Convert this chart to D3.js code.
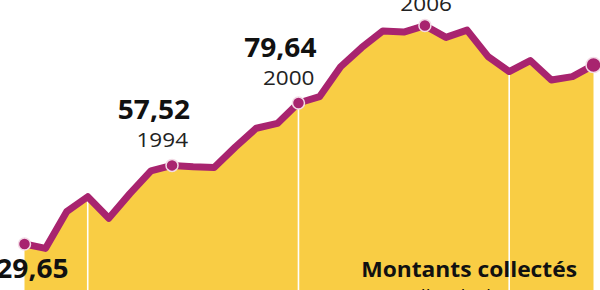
<!DOCTYPE html>
<html>
<head>
<meta charset="utf-8">
<script src="https://cdn.jsdelivr.net/npm/d3@7"></script>
<style>
  body { margin: 0; background: #fff; }
  svg { display: block; font-family: "Open Sans", sans-serif; }
</style>
</head>
<body>
<script>
// montants collectes, en milliards d'euros
var years = [1987, 1988, 1989, 1990, 1991, 1992, 1993, 1994, 1995, 1996,
             1997, 1998, 1999, 2000, 2001, 2002, 2003, 2004, 2005, 2006,
             2007, 2008, 2009, 2010, 2011, 2012, 2013, 2014];
var amounts = [29.65, 28.1, 41.1, 46.4, 38.8, 47.5, 55.6, 57.52, 57.0, 56.8,
               64.0, 70.7, 72.4, 79.64, 81.9, 92.5, 99.3, 105.2, 104.8, 107.1,
               102.9, 105.5, 96.1, 90.8, 94.7, 87.8, 89.0, 93.1];
var labelYears = [1987, 1994, 2000, 2006];
var labelTexts = ['29,65', '57,52', '79,64', '107,10'];
var dotYears = [1987, 1994, 2000, 2006, 2014];
var gridYears = [1990, 2000, 2010];

var width = 600;
var height = 290;

var data = years.map(function(y, i) { return {year: y, value: amounts[i]}; });
var byYear = {};
data.forEach(function(d) { byYear[d.year] = d; });

var svg = d3.select('body').append('svg')
  .attr('width', width)
  .attr('height', height);

var x = d3.scaleLinear().domain([1987, 2014]).range([24.5, 593.5]);
var y = d3.scaleLinear().domain([0, 100]).range([327.6, 45.6]);

var yellow = '#f9cd44';
var purple = '#a8246f';

// area under the curve
var area = d3.area()
  .x(function(d) { return x(d.year); })
  .y0(height)
  .y1(function(d) { return y(d.value); });

svg.append('path')
  .datum(data)
  .attr('d', area)
  .attr('fill', yellow);

// white decade lines
svg.selectAll('.grid')
  .data(gridYears)
  .enter().append('line')
  .attr('class', 'grid')
  .attr('x1', function(d) { return x(d); })
  .attr('x2', function(d) { return x(d); })
  .attr('y1', function(d) { return y(byYear[d].value); })
  .attr('y2', height)
  .attr('stroke', '#fff')
  .attr('stroke-width', 1.6);

// legend text (partly cut at the bottom)
svg.append('text')
  .attr('transform', 'translate(577,277) scale(1.06,1)')
  .attr('text-anchor', 'end')
  .attr('font-size', 21.5)
  .attr('font-weight', 700)
  .attr('fill', '#111')
  .text('Montants collectés');

svg.append('text')
  .attr('transform', 'translate(545,303) scale(1.06,1)')
  .attr('text-anchor', 'end')
  .attr('font-size', 18)
  .attr('fill', '#111')
  .text('en milliards d\u2019euros');

// the line
var line = d3.line()
  .x(function(d) { return x(d.year); })
  .y(function(d) { return y(d.value); })
  .curve(d3.curveLinear);

svg.append('path')
  .datum(data)
  .attr('d', line)
  .attr('fill', 'none')
  .attr('stroke', purple)
  .attr('stroke-width', 7)
  .attr('stroke-linejoin', 'round')
  .attr('stroke-linecap', 'round');

// dots
svg.selectAll('.dot')
  .data(dotYears)
  .enter().append('circle')
  .attr('class', 'dot')
  .attr('cx', function(d) { return x(d); })
  .attr('cy', function(d) { return y(byYear[d].value); })
  .attr('r', function(d, i) { return i == dotYears.length - 1 ? 7.5 : 6; })
  .attr('fill', purple)
  .attr('stroke', '#f3dbe6')
  .attr('stroke-width', 1.5);

// annotations: value in bold, year below
var labels = svg.selectAll('.lab')
  .data(labelYears)
  .enter().append('g')
  .attr('class', 'lab')
  .attr('transform', function(d) {
    var dx = 18, dy = -46;
    if (d == 1987) { dx = 44; dy = 34; }
    if (d == 2006) { dx = 29; dy = -43; }
    return 'translate(' + (x(d) + dx) + ',' + (y(byYear[d].value) + dy) + ')';
  });

labels.append('text')
  .attr('transform', 'scale(1.08,1)')
  .attr('text-anchor', 'end')
  .attr('font-size', 26)
  .attr('font-weight', 700)
  .attr('fill', '#111')
  .text(function(d, i) { return labelTexts[i]; });

labels.append('text')
  .attr('transform', 'translate(-2,28) scale(1.1,1)')
  .attr('text-anchor', 'end')
  .attr('font-size', 20.5)
  .attr('fill', '#222')
  .text(function(d) { return d; });
</script>
</body>
</html>
